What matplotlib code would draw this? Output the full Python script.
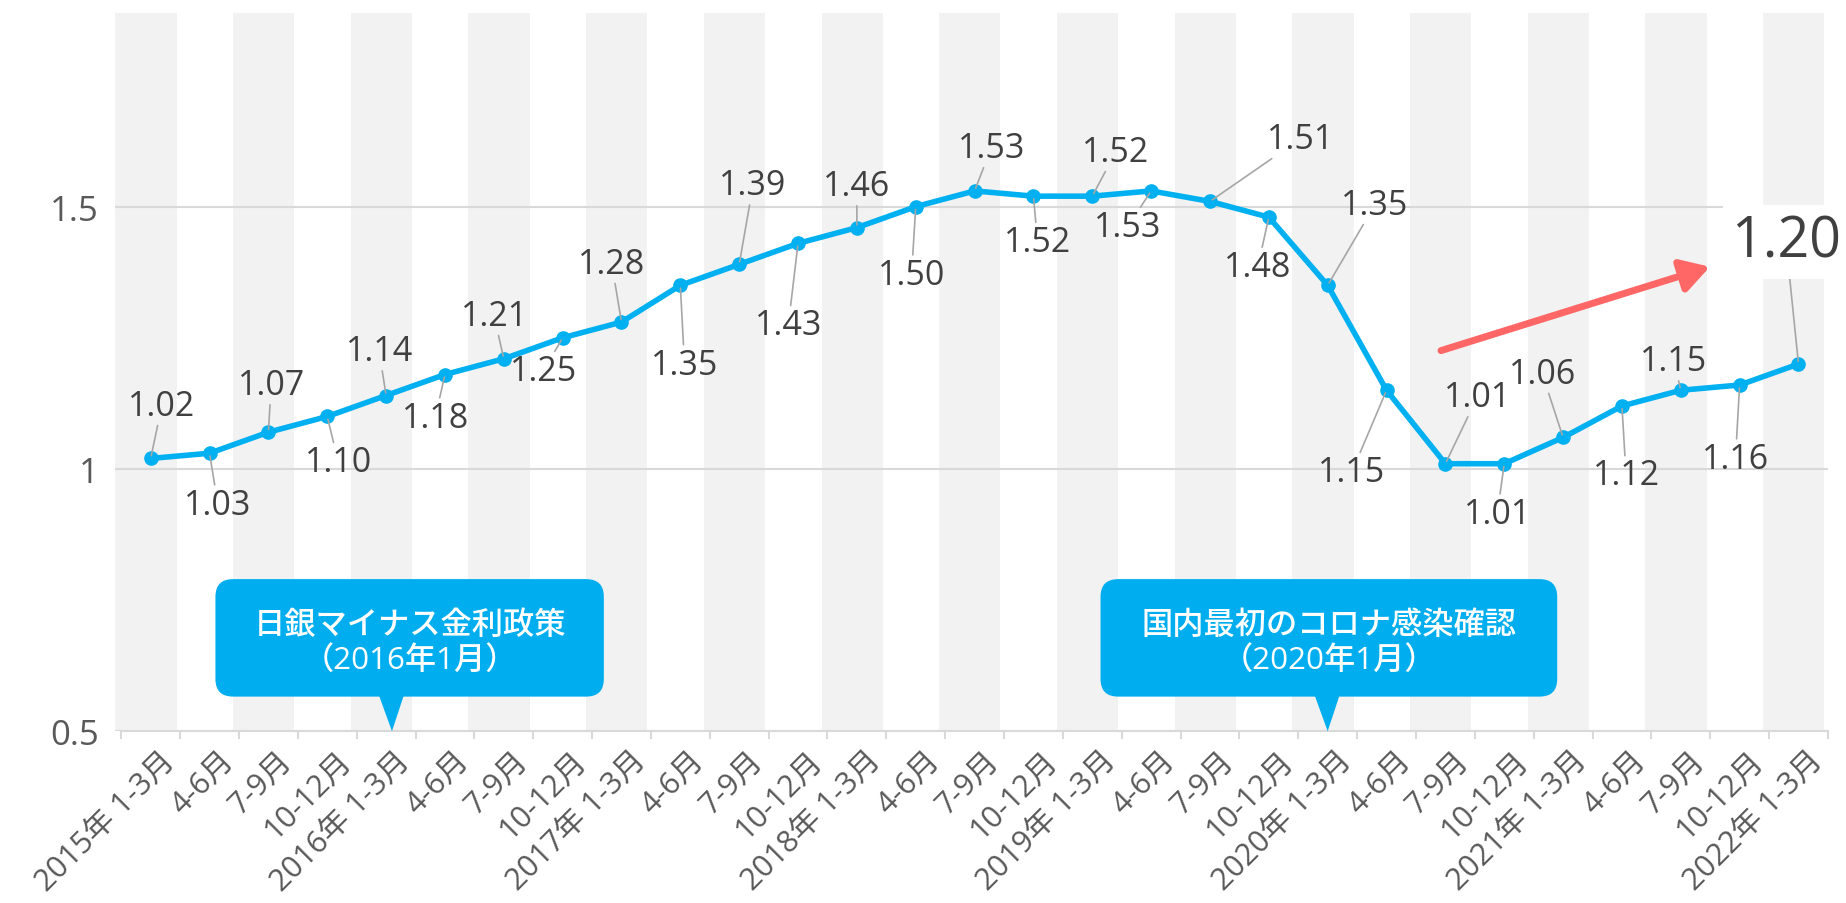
import numpy as np
import matplotlib
matplotlib.use("Agg")
import matplotlib.pyplot as plt
from matplotlib.patches import FancyBboxPatch, Polygon
from matplotlib.transforms import ScaledTranslation

plt.rcParams['font.family'] = ['Open Sans', 'Noto Sans CJK JP', 'DejaVu Sans']

# ---- data ----
quarters = ['2015年 1-3月', '4-6月', '7-9月', '10-12月',
            '2016年 1-3月', '4-6月', '7-9月', '10-12月',
            '2017年 1-3月', '4-6月', '7-9月', '10-12月',
            '2018年 1-3月', '4-6月', '7-9月', '10-12月',
            '2019年 1-3月', '4-6月', '7-9月', '10-12月',
            '2020年 1-3月', '4-6月', '7-9月', '10-12月',
            '2021年 1-3月', '4-6月', '7-9月', '10-12月',
            '2022年 1-3月']
ratio = [1.02, 1.03, 1.07, 1.10,
         1.14, 1.18, 1.21, 1.25,
         1.28, 1.35, 1.39, 1.43,
         1.46, 1.50, 1.53, 1.52,
         1.52, 1.53, 1.51, 1.48,
         1.35, 1.15, 1.01, 1.01,
         1.06, 1.12, 1.15, 1.16,
         1.20]
y_ticks = [0.5, 1.0, 1.5]
y_ticklabels = ['0.5', '1', '1.5']

events = ['日銀マイナス金利政策\n（2016年1月）', '国内最初のコロナ感染確認\n（2020年1月）']
event_quarter = [4, 20]

# label offsets (points) from each marker
label_off = [(8, 38), (6, -37), (2, 34), (8, -33),
             (-5, 32), (-7, -31), (-7, 31), (-14, -24),
             (-7, 42), (3, -57), (10, 57), (-7, -59),
             (0, 30), (-3, -49), (12, 31), (3, -33),
             (17, 32), (-17, -26), (65, 45), (-8, -36),
             (34, 58), (-25, -59), (23, 48), (-5, -36),
             (-15, 46), (3, -50), (-5, 21), (-3, -53)]

BLUE = '#00b0f0'
BOX_BLUE = '#00aeef'
GRID = '#d9d9d9'
TXT = '#404040'

fig = plt.figure(figsize=(18.46, 9.04), dpi=100)
ax = fig.add_axes([0.0625, 0.190, 0.9277, 0.795])

x = np.arange(len(ratio))
ax.set_xlim(-0.6, len(ratio) - 0.5)
ax.set_ylim(0.5, 1.87)

# alternating background bands
for i in range(0, len(ratio), 2):
    ax.axvspan(i - 0.6, i + 0.44, color='#f2f2f2', lw=0, zorder=0.2)

ax.set_axisbelow(True)
ax.set_yticks(y_ticks)
ax.set_yticklabels(y_ticklabels)
ax.yaxis.grid(True, color=GRID, lw=1.5)
ax.tick_params(axis='y', length=0, pad=12, labelsize=25, labelcolor='#595959')

ax.set_xticks(np.arange(-0.5, len(ratio), 1))
ax.set_xticklabels([])
ax.tick_params(axis='x', which='major', length=6, width=1.5, color=GRID)
ax.set_xticks(x, minor=True)
ax.set_xticklabels(quarters, minor=True, rotation=45, ha='right',
                   rotation_mode='anchor')
ax.tick_params(axis='x', which='minor', length=0, pad=10, labelsize=22,
               labelcolor='#595959')
shift = ScaledTranslation(0.09, 0, fig.dpi_scale_trans)
for lab in ax.get_xticklabels(minor=True):
    lab.set_transform(lab.get_transform() + shift)

for s in ['top', 'right', 'left']:
    ax.spines[s].set_visible(False)
ax.spines['bottom'].set_color(GRID)
ax.spines['bottom'].set_linewidth(1.5)
ax.spines['bottom'].set_bounds(-0.5, len(ratio) - 0.5)

# main line
ax.plot(x, ratio, color=BLUE, lw=4, marker='o', ms=9.5, zorder=3)

# data labels with leader lines
for i, v in enumerate(ratio[:-1]):
    ax.annotate(f'{v:.2f}', xy=(i, v), xytext=label_off[i],
                textcoords='offset points', ha='center', va='center',
                fontsize=24.5, color=TXT, zorder=4,
                arrowprops=dict(arrowstyle='-', color='#a6a6a6', lw=1.2,
                                shrinkA=0, shrinkB=2))

# latest value, emphasised
ax.annotate(f'{ratio[-1]:.2f}', xy=(x[-1], ratio[-1]), xytext=(-9, 88),
            textcoords='offset points', ha='center', va='center',
            fontsize=40, color=TXT, zorder=5,
            bbox=dict(boxstyle='square,pad=0.15', fc='white', ec='none'),
            arrowprops=dict(arrowstyle='-', color='#a6a6a6', lw=1.2,
                            shrinkA=0, shrinkB=2))

# red trend arrow
ax.annotate('', xy=(26.54, 1.387), xytext=(21.88, 1.224),
            arrowprops=dict(arrowstyle='-|>,head_length=0.85,head_width=0.5',
                            mutation_scale=20, lw=5, color='#ff6666'),
            zorder=4)

# callouts
aspect = (1.37 / (0.795 * 904)) / (29.1 / (0.9277 * 1846))
boxes = [(1.1, 7.7, 4.4, 4.1), (16.14, 23.9, 20.02, 20.0)]
for (x0, x1, xc, tip), txt in zip(boxes, events):
    y0, y1 = 0.566, 0.79
    ax.add_patch(FancyBboxPatch((x0, y0), x1 - x0, y1 - y0,
                                boxstyle='round,pad=0,rounding_size=0.3',
                                mutation_aspect=aspect, fc=BOX_BLUE,
                                ec='none', zorder=5))
    ax.add_patch(Polygon([(tip - 0.22, y0 + 0.002), (tip + 0.2, y0 + 0.002),
                          (tip, 0.5)], closed=True, fc=BOX_BLUE, ec='none',
                         zorder=5, clip_on=False))
    ax.text(xc, (y0 + y1) / 2 - 0.008, txt, ha='center', va='center',
            color='white', fontsize=22.5, fontweight='medium',
            linespacing=1.2, zorder=6)

fig.savefig('out.png', dpi=100)
